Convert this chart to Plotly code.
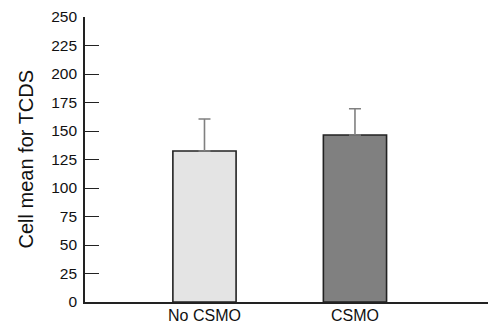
import plotly.graph_objects as go

categories = ["No CSMO", "CSMO"]
means = [132.5, 146.5]
errors_up = [28.0, 23.0]
bar_colors = ["#e4e4e4", "#808080"]
y_ticks = [0, 25, 50, 75, 100, 125, 150, 175, 200, 225, 250]

fig = go.Figure()
fig.add_trace(go.Bar(
    x=[0, 1],
    y=means,
    width=0.42,
    marker=dict(color=bar_colors, line=dict(color="#222222", width=1.6)),
    error_y=dict(type="data", symmetric=False, array=errors_up,
                 arrayminus=[0, 0], color="#808080", thickness=1.6, width=6),
    showlegend=False,
))

fig.update_layout(
    width=488, height=326,
    margin=dict(l=85, r=0, t=17, b=24),
    plot_bgcolor="white", paper_bgcolor="white",
    font=dict(family="Liberation Sans, Arial, sans-serif", color="#111111"),
    xaxis=dict(
        range=[-0.794, 1.884],
        tickvals=[0, 1], ticktext=categories,
        showline=True, linecolor="#222222", linewidth=1.6,
        ticks="", showgrid=False, zeroline=False,
        tickfont=dict(size=16),
        ticklabelstandoff=-2,
        automargin=False,
    ),
    yaxis=dict(
        range=[0, 250],
        tickvals=y_ticks,
        ticks="inside", ticklen=14, tickwidth=1.3, tickcolor="#222222",
        showline=True, linecolor="#222222", linewidth=1.6,
        showgrid=False, zeroline=False,
        tickfont=dict(size=15.5),
        ticklabelstandoff=3,
        automargin=False,
    ),
    annotations=[dict(
        text="Cell mean for TCDS", textangle=-90,
        xref="paper", yref="paper",
        x=(25 - 85) / 403, y=0.5,
        xanchor="center", yanchor="middle",
        showarrow=False, font=dict(size=20),
    )],
)

fig.write_html(
    "out.html",
    config={"displayModeBar": False},
    post_script="document.body.style.margin='0';document.body.style.overflow='hidden';",
)
